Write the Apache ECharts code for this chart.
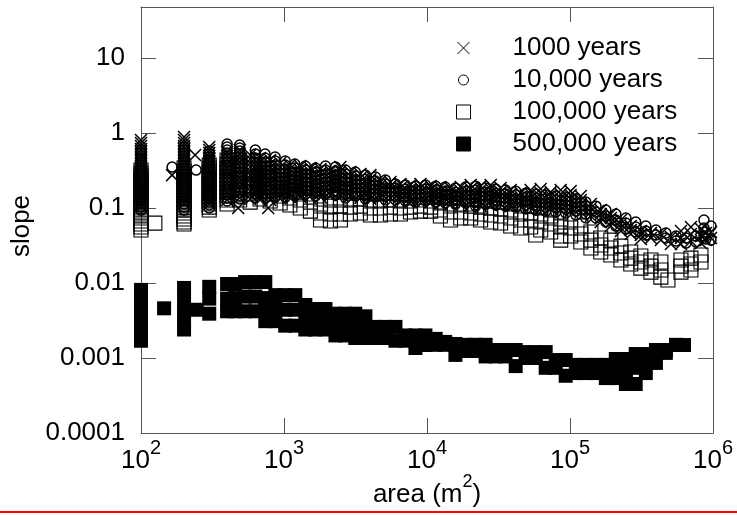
<!DOCTYPE html>
<html><head><meta charset="utf-8">
<script src="https://cdn.jsdelivr.net/npm/echarts@6/dist/echarts.min.js"></script>
<style>html,body{margin:0;padding:0;background:#fff}#c{width:737px;height:515px}</style>
</head><body><div id="c"></div>
<script>
const seriesNames = ['1000 years', '10,000 years', '100,000 years', '500,000 years'];
const xTickExponents = ['2', '3', '4', '5', '6'];      // 10^2 .. 10^6
const yTickLabels = ['0.0001', '0.001', '0.01', '0.1', '1', '10'];
const xAxisTitle = ['area (m', '2', ')'];
const yAxisTitle = 'slope';

// each row: [area (m^2), slope, slope, ...]
const years1000 = [
  [100,0.807,0.736,0.671,0.612,0.558,0.509,0.464,0.423,0.386,0.352,0.321,0.293,0.267,0.243,0.222,0.203,0.185,0.168,0.154,0.140,0.128,0.117,0.106],
  [165,0.275],[239,0.509],
  [200,0.885,0.807,0.736,0.671,0.612,0.558,0.509,0.464,0.423,0.386,0.352,0.321,0.293,0.267,0.243,0.222,0.203,0.185,0.168,0.154,0.140,0.128,0.117],
  [300,0.651,0.593,0.541,0.494,0.450,0.411,0.374,0.341,0.311,0.284,0.259,0.236,0.215,0.196,0.179,0.163,0.149,0.136,0.124,0.113],
  [400,0.558,0.494,0.437,0.386,0.341,0.302,0.267,0.236,0.209,0.185,0.163,0.145,0.128],
  [478,0.1],[775,0.1],
  [490,0.593,0.525,0.464,0.411,0.363,0.321,0.284,0.251,0.222,0.196,0.174,0.154,0.136],
  [580,0.509,0.450,0.398,0.352,0.311,0.275,0.243,0.215,0.191,0.168,0.149,0.132],
  [680,0.464,0.411,0.363,0.321,0.284,0.251,0.222,0.196,0.174,0.154,0.136],
  [800,0.437,0.386,0.341,0.302,0.267,0.236,0.209,0.185,0.163,0.145,0.128],
  [940,0.398,0.352,0.311,0.275,0.243,0.215,0.191,0.168,0.149,0.136],
  [1100,0.374,0.331,0.293,0.259,0.229,0.203,0.179,0.158,0.140],
  [1300,0.363,0.321,0.284,0.251,0.222,0.196,0.174,0.154,0.140],
  [1530,0.341,0.302,0.267,0.236,0.209,0.185,0.163,0.145],
  [1800,0.331,0.293,0.259,0.229,0.203,0.179,0.158,0.140],
  [2110,0.311,0.275,0.243,0.215,0.191,0.168,0.149],
  [2480,0.352,0.311,0.275,0.243,0.215,0.191,0.168,0.149],
  [2910,0.302,0.267,0.236,0.209,0.185,0.163,0.145],
  [3420,0.284,0.251,0.222,0.196,0.174,0.154,0.136],
  [4020,0.275,0.243,0.215,0.191,0.168,0.149,0.132],
  [4720,0.229,0.203,0.179,0.158,0.140],
  [5550,0.222,0.196,0.174,0.154,0.136],
  [6520,0.209,0.185,0.163,0.145,0.128],
  [7660,0.203,0.179,0.158,0.140,0.124],
  [9000,0.209,0.185,0.163,0.145,0.128],
  [10600,0.196,0.174,0.154,0.136,0.120],
  [12400,0.191,0.168,0.149,0.132,0.117],
  [14600,0.185,0.163,0.145,0.128,0.113],
  [17200,0.191,0.168,0.149,0.132,0.117],
  [20200,0.203,0.179,0.158,0.140,0.124,0.110],
  [23700,0.196,0.174,0.154,0.136,0.120,0.106],
  [27900,0.203,0.179,0.158,0.140,0.124,0.110],
  [32700,0.185,0.163,0.145,0.128,0.113],
  [38500,0.174,0.154,0.136,0.120,0.106],
  [45200,0.158,0.140,0.124,0.110],
  [53100,0.174,0.154,0.136,0.120,0.106],
  [62400,0.179,0.158,0.140,0.124,0.110,0.097],
  [73300,0.163,0.145,0.128,0.113,0.100],
  [86100,0.174,0.154,0.136,0.120,0.106,0.094],
  [101000,0.168,0.149,0.132,0.117,0.103,0.091],
  [119000,0.145,0.128,0.113,0.100,0.0885],
  [140000,0.113,0.100,0.0885,0.0782],
  [164000,0.094,0.0832,0.0736,0.0651],
  [193000,0.0832,0.0736,0.0651,0.0575],
  [227000,0.0692,0.0612,0.0541,0.0494],
  [266000,0.0575,0.0509,0.0450],
  [313000,0.0494,0.0437,0.0386],
  [368000,0.0464,0.0398],
  [432000,0.0450,0.0374],
  [508000,0.0411,0.0331],
  [597000,0.0494,0.0398,0.0331],
  [701000,0.0558,0.0450,0.0363],
  [824000,0.0525,0.0423,0.0341],
  [893000,0.0464,0.0374],
  [968000,0.0479,0.0398]
];

const years10000 = [
  [100,0.593,0.541,0.494,0.450,0.411,0.374,0.341,0.311,0.284,0.259,0.236,0.215,0.196,0.179,0.163,0.149,0.136,0.124,0.113,0.103,0.094],
  [165,0.352],[243,0.321],
  [200,0.651,0.593,0.541,0.494,0.450,0.411,0.374,0.341,0.311,0.284,0.259,0.236,0.215,0.196,0.179,0.163,0.149,0.136,0.124,0.113,0.103,0.094],
  [300,0.575,0.525,0.479,0.437,0.398,0.363,0.331,0.302,0.275,0.251,0.229,0.209,0.191,0.174,0.158,0.145,0.132,0.120,0.110,0.100],
  [400,0.713,0.651,0.593,0.541,0.494,0.450,0.411,0.374,0.341,0.311,0.284,0.259,0.236,0.215,0.196,0.179,0.163,0.149,0.136,0.124],
  [490,0.692,0.631,0.575,0.525,0.479,0.437,0.398,0.363,0.331,0.302,0.275,0.251,0.229,0.209,0.191,0.174,0.158,0.145,0.132],
  [630,0.593,0.525,0.464,0.411,0.363,0.321,0.284,0.251,0.222,0.196,0.174,0.154,0.136],
  [737,0.525,0.464,0.411,0.363,0.321,0.284,0.251,0.222,0.196,0.174,0.154,0.136],
  [867,0.479,0.423,0.374,0.331,0.293,0.259,0.229,0.203,0.179,0.158,0.140],
  [1020,0.423,0.374,0.331,0.293,0.259,0.229,0.203,0.179,0.158,0.140],
  [1190,0.386,0.341,0.302,0.267,0.236,0.209,0.185,0.163,0.145],
  [1410,0.363,0.321,0.284,0.251,0.222,0.196,0.174,0.154],
  [1660,0.341,0.302,0.267,0.236,0.209,0.185,0.163,0.145],
  [1950,0.363,0.321,0.284,0.251,0.222,0.196,0.174,0.154],
  [2290,0.352,0.311,0.275,0.243,0.215,0.191,0.168,0.149],
  [2690,0.321,0.284,0.251,0.222,0.196,0.174,0.154,0.136],
  [3150,0.302,0.267,0.236,0.209,0.185,0.163,0.145],
  [3710,0.275,0.243,0.215,0.191,0.168,0.149,0.132],
  [4360,0.259,0.229,0.203,0.179,0.158,0.140],
  [5120,0.236,0.209,0.185,0.163,0.145,0.128],
  [6020,0.209,0.185,0.163,0.145,0.128],
  [7070,0.203,0.179,0.158,0.140,0.124],
  [8300,0.196,0.174,0.154,0.136,0.120],
  [9760,0.203,0.179,0.158,0.140,0.124],
  [11500,0.196,0.174,0.154,0.136,0.120],
  [13400,0.191,0.168,0.149,0.132,0.117],
  [15800,0.185,0.163,0.145,0.128,0.113],
  [18600,0.191,0.168,0.149,0.132,0.117],
  [21900,0.196,0.174,0.154,0.136,0.120,0.106],
  [25700,0.185,0.163,0.145,0.128,0.113],
  [30200,0.179,0.158,0.140,0.124,0.110],
  [35400,0.174,0.154,0.136,0.120,0.106],
  [41700,0.168,0.149,0.132,0.117,0.103],
  [49000,0.158,0.140,0.124,0.110,0.097],
  [57600,0.154,0.136,0.120,0.106,0.094],
  [67600,0.149,0.132,0.117,0.103,0.091],
  [79500,0.145,0.128,0.113,0.100,0.0885],
  [93300,0.140,0.124,0.110,0.097,0.0858],
  [110000,0.132,0.117,0.103,0.091,0.0807],
  [129000,0.120,0.106,0.094,0.0832,0.0736],
  [152000,0.106,0.0885,0.0736],
  [178000,0.094,0.0782,0.0651],
  [209000,0.0832,0.0692,0.0575],
  [246000,0.0736,0.0631,0.0525],
  [288000,0.0651,0.0558,0.0479],
  [339000,0.0575,0.0494,0.0437],
  [399000,0.0509,0.0437],
  [468000,0.0464,0.0398],
  [551000,0.0423,0.0363],
  [647000,0.0398,0.0341],
  [760000,0.0423,0.0352],
  [865000,0.0692,0.0541,0.0423],
  [893000,0.0479,0.0386],
  [968000,0.0575,0.0374]
];

const years100000 = [
  [100,0.321,0.293,0.267,0.243,0.222,0.203,0.185,0.168,0.154,0.140,0.128,0.117,0.106,0.097,0.0885,0.0807,0.0736,0.0671,0.0612,0.0558,0.0509],
  [125,0.063],
  [200,0.341,0.311,0.284,0.259,0.236,0.215,0.196,0.179,0.163,0.149,0.136,0.124,0.113,0.103,0.094,0.0858,0.0782,0.0713,0.0651,0.0612],
  [300,0.374,0.341,0.311,0.284,0.259,0.236,0.215,0.196,0.179,0.163,0.149,0.136,0.124,0.113,0.103,0.094],
  [400,0.437,0.386,0.341,0.302,0.267,0.236,0.209,0.185,0.163,0.145,0.128,0.113],
  [490,0.437,0.374,0.321,0.275,0.236,0.203,0.174,0.149,0.128],
  [580,0.321,0.251,0.196,0.154,0.120],
  [680,0.275,0.215,0.168,0.132],
  [800,0.251,0.196,0.154,0.124],
  [940,0.236,0.185,0.145,0.117],
  [1100,0.222,0.174,0.136,0.110],
  [1300,0.209,0.163,0.128,0.100],
  [1530,0.196,0.154,0.120,0.091],
  [1800,0.185,0.145,0.113,0.0858,0.0692],
  [2110,0.174,0.136,0.106,0.0832,0.0671],
  [2480,0.174,0.136,0.106,0.0832,0.0692],
  [2910,0.168,0.132,0.103,0.0832],
  [3420,0.168,0.132,0.106,0.0858],
  [4020,0.163,0.128,0.100,0.0807],
  [4720,0.158,0.128,0.100,0.0807],
  [5550,0.158,0.128,0.103,0.0832],
  [6520,0.154,0.124,0.100,0.0832],
  [7660,0.154,0.124,0.103,0.0885],
  [9000,0.154,0.128,0.106,0.091],
  [10600,0.149,0.124,0.103,0.091],
  [12400,0.145,0.117,0.094,0.0782],
  [14600,0.140,0.113,0.0885,0.0692],
  [17200,0.136,0.110,0.0885,0.0736],
  [20200,0.132,0.106,0.0858,0.0736],
  [23700,0.128,0.103,0.0832,0.0692],
  [27900,0.124,0.100,0.0807,0.0651],
  [32700,0.120,0.097,0.0782,0.0631],
  [38500,0.117,0.094,0.0736,0.0575],
  [45200,0.113,0.0885,0.0692,0.0541],
  [53100,0.106,0.0858,0.0692,0.0558],
  [57600,0.0437],
  [62400,0.103,0.0832,0.0651,0.0509],
  [73300,0.097,0.0782,0.0612,0.0479],
  [86100,0.0885,0.0713,0.0558,0.0423,0.0374],
  [101000,0.0692,0.0541,0.0423],
  [119000,0.0575,0.0450,0.0352],
  [140000,0.0479,0.0374,0.0293],
  [164000,0.0398,0.0321,0.0259],
  [193000,0.0374,0.0293,0.0236],
  [227000,0.0311,0.0251,0.0203],
  [266000,0.0259,0.0215,0.0179],
  [313000,0.0229,0.0191,0.0158],
  [368000,0.0203,0.0168,0.0140],
  [432000,0.0191,0.0149,0.0120],
  [484000,0.0110],
  [597000,0.0203,0.0168,0.0140],
  [701000,0.0215,0.0179,0.0149],
  [824000,0.0236,0.0191]
];

const years500000 = [
  [100,0.0081,0.0054,0.0036,0.0024,0.0017],
  [145,0.0046],
  [200,0.0086,0.0059,0.0041,0.0029,0.0024],
  [245,0.0044],
  [300,0.0089,0.0062,0.0039],
  [400,0.0097,0.0062,0.0042],
  [455,0.0097,0.0063,0.0042],
  [535,0.0103,0.0066,0.0042],
  [630,0.0103,0.0066,0.0042],
  [740,0.0103,0.0063,0.0044,0.0031],
  [870,0.0069,0.0046,0.0031],
  [1020,0.0069,0.0044,0.0027],
  [1200,0.0069,0.0044,0.0027],
  [1410,0.0051,0.0035,0.0024],
  [1650,0.0045,0.0033,0.0024],
  [1950,0.0045,0.0033,0.0024],
  [2290,0.0039,0.0028,0.0020],
  [2690,0.0039,0.0028,0.0020],
  [3150,0.0039,0.0027,0.00185],
  [3710,0.0036,0.0026,0.00185],
  [4360,0.0026,0.00185],
  [5120,0.0026,0.00185],
  [6020,0.0026,0.0017],
  [7070,0.0020,0.0017],
  [8300,0.0020,0.00136],
  [9750,0.0020,0.00149],
  [11500,0.0018,0.0015],
  [13400,0.00164,0.0015],
  [15800,0.00154,0.0011],
  [18600,0.0015,0.00124],
  [21900,0.0015,0.00124],
  [25700,0.0015,0.00105],
  [30200,0.00128,0.00105],
  [35400,0.00128,0.00105],
  [41700,0.00128,0.00078],
  [49000,0.0012,0.001],
  [57600,0.0012,0.001],
  [67600,0.0012,0.00074],
  [79500,0.00094,0.00074],
  [93300,0.00094,0.00058],
  [110000,0.00081,0.00063],
  [129000,0.00081,0.00063],
  [152000,0.00081,0.00063],
  [178000,0.00081,0.00054],
  [209000,0.00097,0.00074,0.00054],
  [246000,0.00097,0.00065,0.00045],
  [288000,0.00113,0.00074,0.00045],
  [339000,0.00113,0.00085,0.00063],
  [399000,0.00128,0.00086],
  [468000,0.00128,0.00117],
  [551000,0.00149,0.0015],
  [627000,0.00149]
];

function toPairs(rows) {
  const out = [];
  rows.forEach(r => { for (let i = 1; i < r.length; i++) out.push([r[0], r[i]]); });
  return out;
}

const FONT = 'Liberation Sans, Arial, sans-serif';
const AXIS_COLOR = '#555';
const crossPath = 'path://M0,0L10,10M10,0L0,10';
const crossLegendIcon = 'path://M0,0M14,14M1,1L13,13M13,1L1,13';
const circleLegendIcon = 'path://M0,0M14,14M12,7A5,5,0,1,1,2,7A5,5,0,1,1,12,7Z';

const baseX = {
  type: 'log', logBase: 10, min: 100, max: 1000000,
  splitLine: { show: false }, minorTick: { show: false },
  axisLine: { show: true, lineStyle: { color: AXIS_COLOR, width: 1 } },
  axisTick: { show: true, inside: true, length: 15, lineStyle: { color: AXIS_COLOR, width: 1 } }
};
const baseY = {
  type: 'log', logBase: 10, min: 0.0001, max: 48,
  splitLine: { show: false }, minorTick: { show: false },
  axisLine: { show: true, lineStyle: { color: AXIS_COLOR, width: 1 } },
  axisTick: { show: true, inside: true, length: 15, lineStyle: { color: AXIS_COLOR, width: 1 } }
};

const chart = echarts.init(document.getElementById('c'), null, { renderer: 'canvas' });
chart.setOption({
  animation: false,
  backgroundColor: '#fff',
  textStyle: { fontFamily: FONT },
  grid: { left: 141, right: 24, top: 7, bottom: 82, containLabel: false, outerBoundsMode: 'none' },
  legend: {
    orient: 'vertical', left: 456, top: 35, padding: 0,
    itemWidth: 14, itemHeight: 14, itemGap: 6,
    selectedMode: false,
    itemStyle: { borderWidth: 1 },
    data: [
      { name: seriesNames[0], icon: crossLegendIcon },
      { name: seriesNames[1], icon: circleLegendIcon },
      { name: seriesNames[2], icon: 'rect' },
      { name: seriesNames[3], icon: 'rect' }
    ],
    formatter: n => '{p|}{t|' + n + '}',
    textStyle: {
      fontFamily: FONT, fontSize: 26, color: '#000',
      rich: { p: { width: 37 }, t: { fontFamily: FONT, fontSize: 26, lineHeight: 26, color: '#000' } }
    }
  },
  xAxis: [
    Object.assign({}, baseX, {
      position: 'bottom',
      axisLabel: {
        margin: 5,
        formatter: v => {
          const e = Math.round(Math.log10(v));
          const s = xTickExponents[e - 2];
          return s === undefined ? '' : '{b|10}{s|' + s + '}';
        },
        rich: {
          b: { fontFamily: FONT, fontSize: 26, lineHeight: 36, color: '#000', verticalAlign: 'bottom' },
          s: { fontFamily: FONT, fontSize: 20, lineHeight: 20, color: '#000', verticalAlign: 'top' }
        }
      },
      name: '{b|' + xAxisTitle[0] + '}{s|' + xAxisTitle[1] + '}{b|' + xAxisTitle[2] + '}',
      nameLocation: 'middle', nameGap: 40, nameMoveOverlap: false,
      nameTextStyle: {
        rich: {
          b: { fontFamily: FONT, fontSize: 26, lineHeight: 35, color: '#000', verticalAlign: 'bottom' },
          s: { fontFamily: FONT, fontSize: 18, lineHeight: 18, color: '#000', verticalAlign: 'top' }
        }
      }
    }),
    Object.assign({}, baseX, { position: 'top', axisLabel: { show: false } })
  ],
  yAxis: [
    Object.assign({}, baseY, {
      position: 'left',
      axisLabel: {
        margin: 16, fontFamily: FONT, fontSize: 26, color: '#000',
        showMaxLabel: false, showMinLabel: true,
        formatter: v => {
          const e = Math.round(Math.log10(v));
          const s = yTickLabels[e + 4];
          return s === undefined ? '' : s;
        }
      },
      name: yAxisTitle, nameLocation: 'middle', nameGap: 106, nameRotate: 90, nameMoveOverlap: false,
      nameTextStyle: { fontFamily: FONT, fontSize: 26, color: '#000', padding: [0, 12, 0, 0] }
    }),
    Object.assign({}, baseY, { position: 'right', axisLabel: { show: false } })
  ],
  series: [
    {
      name: seriesNames[0], type: 'scatter', xAxisIndex: 0, yAxisIndex: 0,
      symbol: crossPath, symbolSize: 12, silent: true,
      itemStyle: { color: 'rgba(0,0,0,0)', borderColor: '#000', borderWidth: 1.5, opacity: 1 },
      data: toPairs(years1000)
    },
    {
      name: seriesNames[1], type: 'scatter', xAxisIndex: 0, yAxisIndex: 0,
      symbol: 'circle', symbolSize: 10, silent: true,
      itemStyle: { color: 'rgba(0,0,0,0)', borderColor: '#000', borderWidth: 1.5, opacity: 1 },
      data: toPairs(years10000)
    },
    {
      name: seriesNames[2], type: 'scatter', xAxisIndex: 0, yAxisIndex: 0,
      symbol: 'rect', symbolSize: 14, silent: true,
      itemStyle: { color: 'rgba(0,0,0,0)', borderColor: '#000', borderWidth: 1.1, opacity: 1 },
      data: toPairs(years100000)
    },
    {
      name: seriesNames[3], type: 'scatter', xAxisIndex: 0, yAxisIndex: 0,
      symbol: 'rect', symbolSize: 14, silent: true,
      itemStyle: { color: '#000', borderColor: '#000', borderWidth: 0, opacity: 1 },
      data: toPairs(years500000)
    }
  ],
  graphic: [
    { type: 'rect', left: 0, top: 511, shape: { width: 737, height: 2 }, style: { fill: '#ff0000' }, silent: true }
  ]
});
</script>
</body></html>
